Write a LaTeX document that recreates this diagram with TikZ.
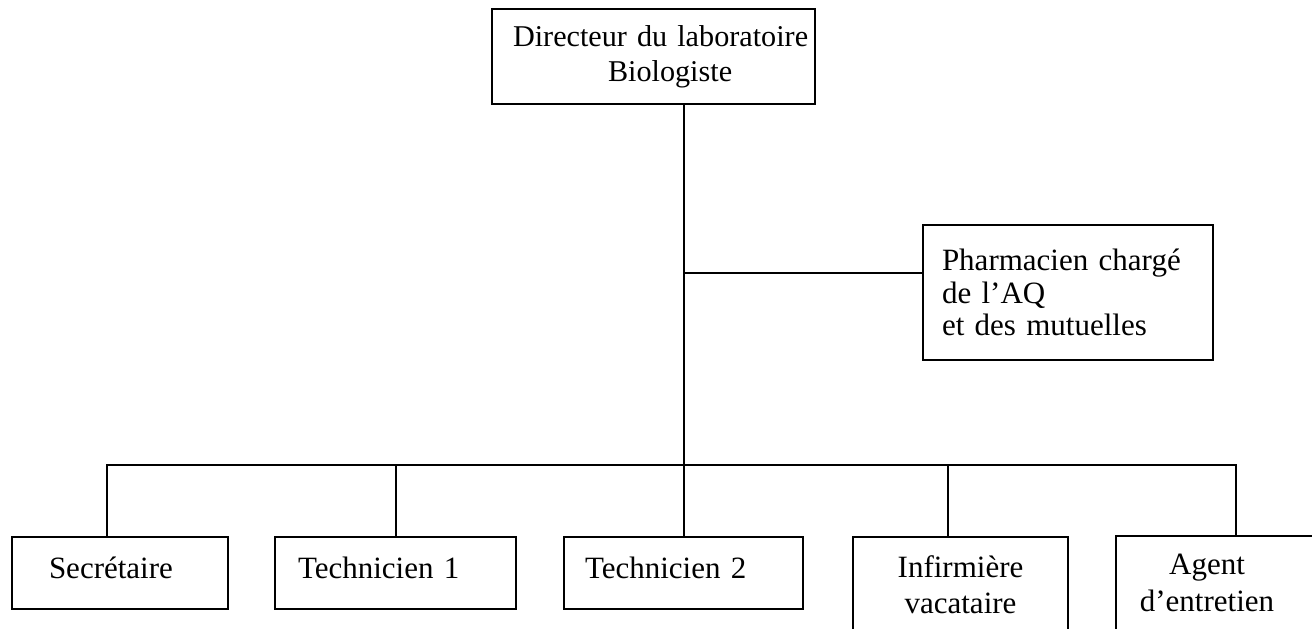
\documentclass[tikz,border=0pt]{standalone}
\usepackage{fontspec}
\setmainfont{Liberation Serif}
\begin{document}
\begin{tikzpicture}[x=0.5pt,y=-0.5pt,
  box/.style={draw, line width=1pt, inner sep=0pt, font=\fontsize{15.5}{18}\selectfont},
  single/.style={box, minimum height=36pt, text height=10pt, text depth=5pt, align=left},
  link/.style={line width=1pt}]
\clip (0,0) rectangle (1312,628);
% boxes
\node[box, minimum width=161.5pt, minimum height=47.5pt, text width=140.5pt, align=left,
      font=\fontsize{15.1}{17.5}\selectfont] (dir) at (653.5,56.5)
      {\mbox{Directeur du laboratoire}\\\hspace*{47.5pt}Biologiste};
\node[box, minimum width=145pt, minimum height=67.5pt, text width=126pt, align=left,
      font=\fontsize{15.5}{16.2}\selectfont] (pharm) at (1068,292.5)
      {Pharmacien chargé\\de l’AQ\\et des mutuelles};
\node[single, minimum width=108pt, text width=71pt] (sec) at (120,573) {Secrétaire};
\node[single, minimum width=120.5pt, text width=97.5pt] (tech1) at (395.5,573) {Technicien 1};
\node[single, minimum width=119.5pt, text width=98.5pt] (tech2) at (683.5,573) {Technicien 2};
\node[box, minimum width=107.5pt, minimum height=47.5pt, align=center] (inf) at (960.5,584.5)
      {Infirmière\\vacataire};
\node[box, minimum width=107pt, minimum height=50pt, font=\fontsize{15.5}{18.5}\selectfont] (agent) at (1223,586)
      {\begin{tabular}{@{}c@{}}Agent\\d’entretien\end{tabular}\hspace*{16pt}};
% junction coordinates
\coordinate (pj) at (684,273);
\coordinate (busL) at (107,465);
\coordinate (busR) at (1236,465);
\coordinate (infd) at (948,465);
\coordinate (agd) at (1236,537);
% connectors
\draw[link] (tech2.north |- dir.south) -- (tech2.north);
\draw[link] (pj) -- (pj -| pharm.west);
\draw[link] (busL |- sec.north) -- (busL) -- (busR) -- (agd);
\draw[link] (tech1.north |- busL) -- (tech1.north);
\draw[link] (infd) -- (infd |- inf.north);
\end{tikzpicture}
\end{document}
